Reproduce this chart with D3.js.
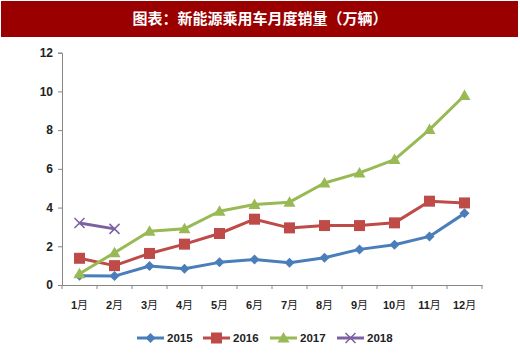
<!DOCTYPE html>
<html><head><meta charset="utf-8">
<script src="https://cdn.jsdelivr.net/npm/d3@7"></script>
<style>body{margin:0;background:#fff}</style>
</head><body>
<svg id="c" width="520" height="357"></svg>
<script>
const months = ["1月","2月","3月","4月","5月","6月","7月","8月","9月","10月","11月","12月"];
const yTicks = [0,2,4,6,8,10,12];
const s2015 = [0.48,0.46,0.98,0.84,1.17,1.32,1.15,1.41,1.84,2.08,2.51,3.70];
const s2016 = [1.38,1.0,1.63,2.11,2.66,3.40,2.95,3.07,3.07,3.21,4.33,4.24];
const s2017 = [0.58,1.67,2.78,2.9,3.81,4.16,4.28,5.27,5.79,6.48,8.03,9.79];
const s2018 = [3.2,2.9];
const seriesNames = ["2015","2016","2017","2018"];
const seriesColors = ["#4a7ebb","#be4b48","#98b954","#7d60a0"];
const title = "图表：新能源乘用车月度销量（万辆）";

const series = [s2015,s2016,s2017,s2018].map((v,i)=>({name:seriesNames[i],values:v,color:seriesColors[i],marker:i}));
const svg = d3.select("#c");
svg.append("rect").attr("x",1).attr("y",1).attr("width",517).attr("height",36).attr("fill","#9a0000");
svg.append("text").attr("x",260).attr("y",24).attr("text-anchor","middle").attr("fill","#fff")
  .attr("font-family","Noto Sans CJK SC").attr("font-size",15).attr("font-weight","bold").text(title);

const x = d3.scaleBand().domain(months).range([62,482]);
const y = d3.scaleLinear().domain([0,12]).range([285,52.7]);
const axisColor = "#868686";
const font = "Liberation Sans, Arial, sans-serif";

const ya = svg.append("g").attr("transform","translate(62,0)").call(d3.axisLeft(y).tickValues(yTicks).tickSize(4).tickPadding(5));
ya.select(".domain").attr("stroke",axisColor);
ya.selectAll(".tick line").attr("stroke",axisColor);
ya.selectAll("text").attr("font-family",font).attr("font-size",12).attr("font-weight","bold").attr("fill","#222");

const xa = svg.append("g").attr("transform","translate(0,285)").call(d3.axisBottom(x).tickSize(0).tickFormat(""));
xa.select(".domain").attr("stroke",axisColor);
xa.selectAll(".tick").remove();
// boundary ticks
xa.selectAll("line.bt").data(d3.range(13)).enter().append("line").attr("class","bt")
  .attr("x1",i=>62+x.step()*i).attr("x2",i=>62+x.step()*i).attr("y1",0).attr("y2",4).attr("stroke",axisColor);
const ml = svg.append("g");
months.forEach(m=>{
  const t = ml.append("text").attr("x",x(m)+x.bandwidth()/2).attr("y",309).attr("text-anchor","middle")
    .attr("font-size",11).attr("fill","#222");
  t.append("tspan").attr("font-family",font).attr("font-weight","bold").text(m.replace("月",""));
  t.append("tspan").attr("font-family","Noto Sans CJK SC").text("月");
});

const cx = i=>x(months[i])+x.bandwidth()/2;
function marker(g,type,color,px,py){
  if(type===0){ g.append("path").attr("d",`M${px},${py-5}L${px+5},${py}L${px},${py+5}L${px-5},${py}Z`).attr("fill",color); }
  else if(type===1){ g.append("rect").attr("x",px-5.5).attr("y",py-5.5).attr("width",11).attr("height",11).attr("fill",color); }
  else if(type===2){ g.append("path").attr("d",`M${px},${py-6}L${px+6},${py+4.5}L${px-6},${py+4.5}Z`).attr("fill",color); }
  else { g.append("path").attr("d",`M${px-5},${py-5}L${px+5},${py+5}M${px-5},${py+5}L${px+5},${py-5}`).attr("stroke",color).attr("stroke-width",1.5); }
}
const line = d3.line().x((d,i)=>cx(i)).y(d=>y(d));
series.forEach(s=>{
  const g = svg.append("g");
  g.append("path").attr("d",line(s.values)).attr("fill","none").attr("stroke",s.color).attr("stroke-width",3).attr("stroke-linejoin","round");
  s.values.forEach((v,i)=>marker(g,s.marker,s.color,cx(i),y(v)));
});

// legend
const lx = [137,203,270,337];
series.forEach((s,i)=>{
  const g = svg.append("g");
  g.append("line").attr("x1",lx[i]).attr("x2",lx[i]+27).attr("y1",338).attr("y2",338).attr("stroke",s.color).attr("stroke-width",3);
  marker(g,s.marker,s.color,lx[i]+13.5,338);
  g.append("text").attr("x",lx[i]+30).attr("y",342).attr("font-family",font).attr("font-weight","bold").attr("font-size",11.5).attr("fill","#222").text(s.name);
});
</script>
</body></html>
